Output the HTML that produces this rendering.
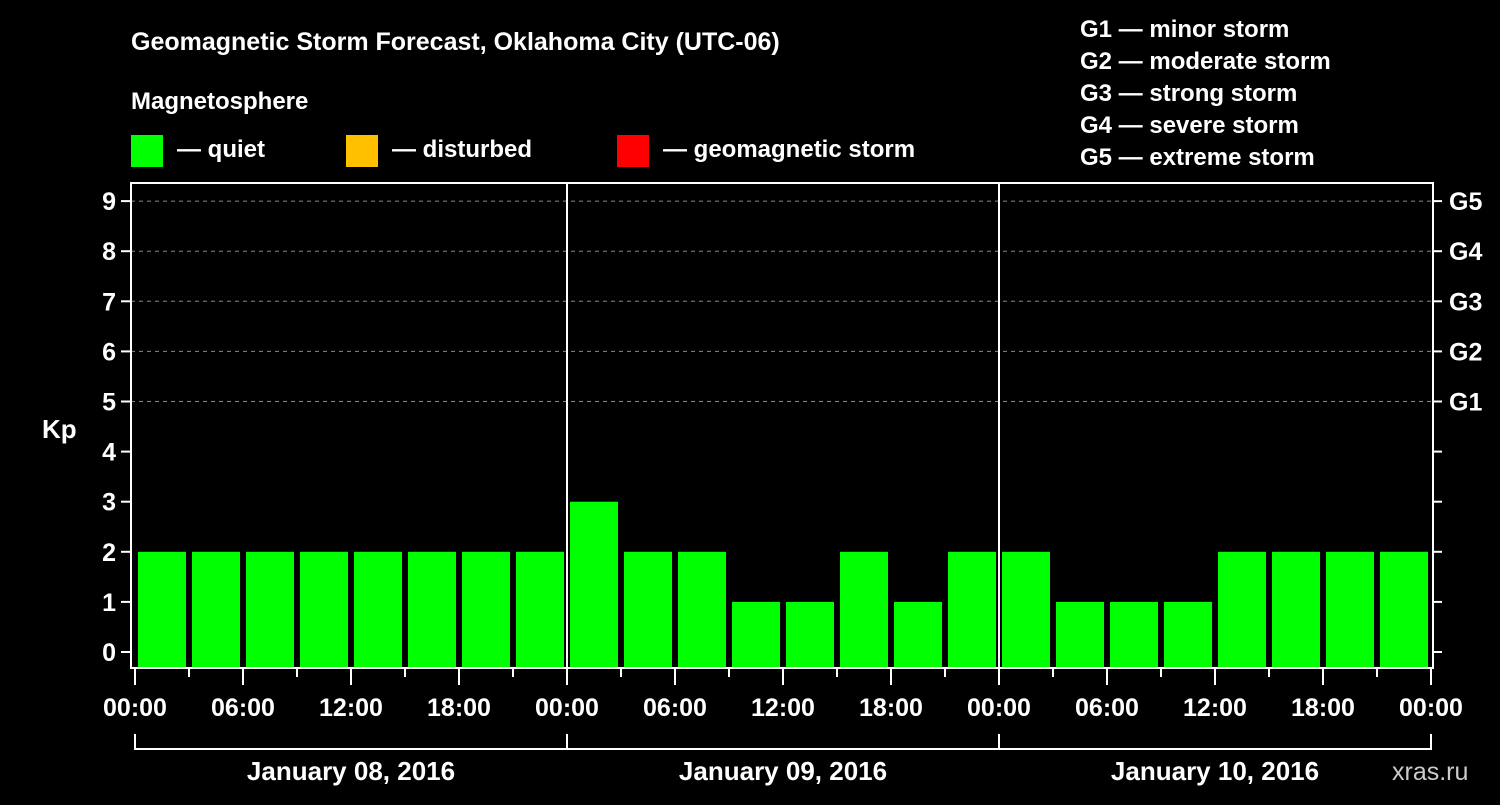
<!DOCTYPE html>
<html><head><meta charset="utf-8"><style>
body{margin:0;background:#000;width:1500px;height:800px;overflow:hidden}
svg text{font-family:"Liberation Sans",Arial,sans-serif;font-weight:bold;fill:#fff}
</style></head><body>
<svg width="1500" height="800">
<text x="131" y="50" font-size="25">Geomagnetic Storm Forecast, Oklahoma City (UTC-06)</text>
<text x="131" y="109" font-size="24">Magnetosphere</text>
<rect x="131" y="135" width="32" height="32" fill="#00ff00"/>
<text x="177" y="157" font-size="24">— quiet</text>
<rect x="346" y="135" width="32" height="32" fill="#ffc000"/>
<text x="392" y="157" font-size="24">— disturbed</text>
<rect x="617" y="135" width="32" height="32" fill="#ff0000"/>
<text x="663" y="157" font-size="24">— geomagnetic storm</text>
<g font-size="24">
<text x="1080" y="37">G1 — minor storm</text>
<text x="1080" y="69">G2 — moderate storm</text>
<text x="1080" y="101">G3 — strong storm</text>
<text x="1080" y="133">G4 — severe storm</text>
<text x="1080" y="165">G5 — extreme storm</text>
</g>
<text x="42" y="438" font-size="26">Kp</text>
<text x="1392" y="780" font-size="25" style="fill:#ccc;font-weight:normal">xras.ru</text>
<g id="plot"></g>
</svg>
<script>
const values = [2,2,2,2,2,2,2,2, 3,2,2,1,1,2,1,2, 2,1,1,1,2,2,2,2];
const yTicks = [0,1,2,3,4,5,6,7,8,9];
const gLabels = ["G1","G2","G3","G4","G5"];
const xLabels = ["00:00","06:00","12:00","18:00","00:00","06:00","12:00","18:00","00:00","06:00","12:00","18:00","00:00"];
const days = ["January 08, 2016","January 09, 2016","January 10, 2016"];
const NS="http://www.w3.org/2000/svg", g=document.getElementById('plot');
const x0=135, perH=18, y=v=>652-50.1*v;
const L=131,R=1433,T=183,B=668;
function el(t,a,p){const e=document.createElementNS(NS,t);for(const k in a)e.setAttribute(k,a[k]);(p||g).appendChild(e);return e;}
for(const v of yTicks){
  if(v>=5){const l=el('line',{x1:L,x2:R,y1:y(v),y2:y(v),stroke:'#888','stroke-dasharray':'4,4'});
  
  }
  el('line',{x1:121,x2:L,y1:y(v),y2:y(v),stroke:'#fff','stroke-width':2});
  el('line',{x1:R,x2:1442,y1:y(v),y2:y(v),stroke:'#fff','stroke-width':2});
  const t=el('text',{x:116,y:y(v)+9,'font-size':25,'text-anchor':'end'});t.textContent=v;
  
  
}
gLabels.forEach((s,i)=>{const t=el('text',{x:1449,y:y(5+i)+9,'font-size':25});t.textContent=s;
  
  });
values.forEach((v,i)=>{const r=el('rect',{x:x0+i*3*perH+3,y:y(v),width:48,height:667-y(v),fill:'#00ff00'});
  
  });
el('rect',{x:L,y:T,width:R-L,height:B-T,fill:'none',stroke:'#fff','stroke-width':2});
for(let d=1;d<days.length;d++){const xx=x0+d*24*perH;el('line',{x1:xx,x2:xx,y1:T,y2:B,stroke:'#fff','stroke-width':2});}
for(let h=0;h<=72;h+=3){const xx=x0+h*perH;el('line',{x1:xx,x2:xx,y1:669,y2:h%6?677:685,stroke:'#fff','stroke-width':2});}
xLabels.forEach((s,i)=>{const t=el('text',{x:x0+i*6*perH,y:716,'font-size':25,'text-anchor':'middle'});t.textContent=s;
  
  });
el('line',{x1:x0,x2:x0+72*perH,y1:749,y2:749,stroke:'#fff','stroke-width':2});
for(let d=0;d<=days.length;d++){const xx=x0+d*24*perH;el('line',{x1:xx,x2:xx,y1:734,y2:750,stroke:'#fff','stroke-width':2});}
days.forEach((s,d)=>{const t=el('text',{x:x0+(d+0.5)*24*perH,y:780,'font-size':26,'text-anchor':'middle'});t.textContent=s;
  
  });
</script>
</body></html>
